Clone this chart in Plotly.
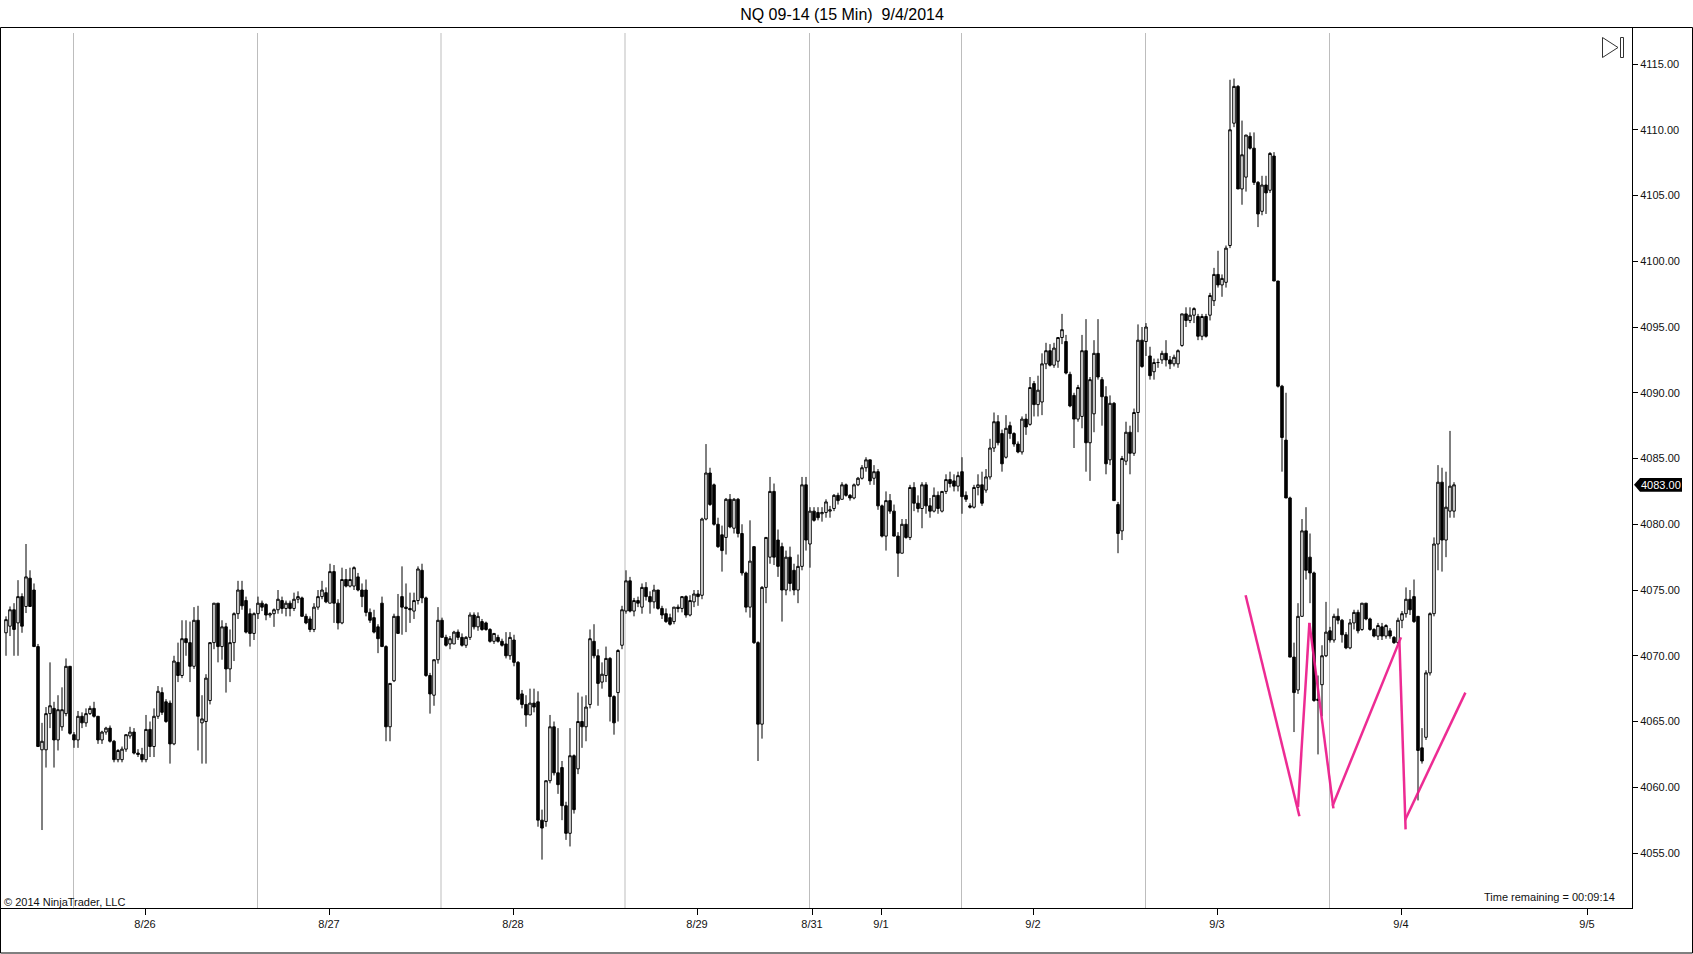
import plotly.graph_objects as go

BASE = 4000  # all the *_pts lists are points above this price

# every second 15 min bar, left to right
open_pts = [
    71.75,72.25,73.5,72.5,74.5,73.75,75.9,75,70.7,62.85,
    62.85,65.6,66,63.6,64.6,65.6,69.2,64,63.6,65.4,
    64.9,65.6,66,65.4,63.6,64.2,64.5,63.5,62.1,62.1,
    62.9,63.9,64.2,62.6,62.5,62.1,64.4,63.1,65.4,67.2,
    66.5,66.4,63.3,69.5,68.5,71.3,71,69.2,72.7,64.9,
    65,66.6,71,74,70.7,72.2,69,71,73.2,75,
    74.2,73.2,71.7,73.2,74,73.9,73.1,73.2,73.5,74.2,
    73.6,74,73.6,74.3,74.4,73,72.8,72,73.7,74.5,
    74.8,74,76.4,74,72.5,75.8,75.3,75.3,76,75,
    75,73.3,72.9,72.2,74,70.7,64.6,68.1,73,
    74.5,73.7,73.6,73.4,74.2,76.5,74.4,68.5,67,69.7,
    72.7,71.4,70.9,70.9,71.8,71.4,70.8,71.4,73.1,72.2,
    72.6,72.5,72,71.1,71.4,71.1,70.9,70,71.2,69.5,
    67.1,66.3,65.5,66.4,66.5,57.5,57.4,60.5,64.6,61.1,
    61.5,58.6,56.5,62.4,61.4,65,64.6,66.3,71.1,70,
    68,68.5,69.8,66.9,67.2,70.8,73.4,75.7,73.4,74.2,
    73.7,75.2,74.5,74.1,75,73.6,73.2,72.9,72.6,73.7,
    73.6,74.5,73.1,74.1,74.7,74.6,80.4,83.9,83,80,
    79.2,79,81.9,79.7,81.9,79.3,76.3,73.7,78.3,71,
    64.8,75.2,77.5,82.5,78.8,78.3,75,77.5,76.5,75,
    76.8,83,78.5,81,
    80.9,80.8,80.9,81,81.2,82.2,81.9,83,82.2,82,
    83,83.5,84.3,84.9,83.5,84,81.4,79.1,81.8,81,
    79.1,77.8,80,79,82.8,81.6,81.2,83,81.4,81,
    82.2,81,82.5,83.4,83.3,82.9,84,82.2,81.4,81.3,
    82.8,83,82.6,83.6,85.8,87.8,86.9,85.1,87.5,86.9,
    86.1,85.5,88,87.6,90.7,89.1,89.3,92.2,93.2,92.1,
    92.4,94.2,93.9,91.4,89.8,88,88.2,93.2,86.2,88.4,
    93,91,89.7,84.9,89.2,81.5,79.5,84.8,87,85.4,
    88.5,94,93.9,92.8,91.6,92.3,92.5,93,92.5,92.2,
    92.2,93.6,96,95.5,95.9,95.8,94.3,95.8,95.9,
    97,99,98.2,98.4,101.2,110.5,113.3,105.5,106.4,109.5,
    108.6,106,103.8,105.8,105.4,108,98.5,90.5,86.4,82,
    69.9,67.4,73,79.5,77.5,76.3,66.6,67.8,70,71.9,
    71.2,73,72.7,71.6,70.6,72.5,73.3,72,74,72.8,
    72,71.5,72.2,71.5,71.9,71.4,71,72.7,73.2,74.3,
    74.5,73,63,63.8,68.7,73.2,78.5,83.2,78.8,81,
    81,
]
high_pts = [
    73,73.75,74,75.75,74.75,78.5,76.5,75.5,70.9,64.9,
    66.1,69.5,66.5,67,67.6,69.8,69.2,64.2,65.8,65.7,
    66,66.2,66.5,65.4,64.3,64.6,64.7,63.6,62.9,63.1,
    64,64.6,64.5,62.9,63,65.5,65,66,67.7,67.6,
    66.7,66.6,70,71,72.7,72.7,72.6,73.7,73.8,67,
    68.6,71,74,74,72.7,72.5,72,73.3,75.7,75.7,
    74.5,73.6,73.3,74.5,74.2,74,73.3,73.6,75,74.5,
    74.2,74.2,74.8,74.9,74.5,73.2,73,74,75,75.7,
    75.2,77,76.9,74.3,76.7,76.6,76.7,76.8,76.3,75.5,
    75.8,73.6,73.5,72.4,74.5,70.8,67.9,73.2,74.7,
    76.8,75.5,74.8,74.8,76.8,77,74.5,68.7,69.7,73.7,
    72.9,71.6,71.5,71.9,72,71.7,71.5,73.3,73.3,73.3,
    72.8,72.6,72.1,71.7,71.6,71.3,71.8,71.8,71.6,69.6,
    67.4,67,67.5,67.5,67.3,58.3,60.5,65.5,65,64.5,
    62,58.9,64.5,62.5,67.2,66.9,67,72,72.4,70.5,
    69.5,70.7,69.9,67,70.5,73.8,76.5,76,74.4,74.5,
    75.5,75.6,74.9,75.4,75,73.8,73.6,73.2,73.7,73.9,
    74.5,74.6,74.6,75,75,80.5,86.1,84.3,83.1,80.5,
    79.9,82,82.3,82,82,80,76.4,80.3,78.3,71.1,
    75.3,79,83.6,83.1,79.6,78.6,78,78.3,77,77.7,
    83.6,83.6,81.3,81.3,
    81.3,81.3,81.9,81.4,82.3,82.4,83.2,83.1,82.3,83.1,
    83.6,84.5,85.1,84.9,84.5,84.2,81.5,82.5,82.3,81.5,
    79.4,80.4,80.4,83,83.2,82.2,83.2,83.2,82,82.8,
    82.5,82.5,83.8,84,83.8,84,85.1,82.5,81.6,83,
    83.8,84,84.2,86.5,88.5,88.3,87.2,88.3,87.8,87,
    86.3,88.2,88.4,91.2,90.9,91.3,93,93.8,93.7,93.8,
    94.2,96,94.4,91.6,90,90.6,94.4,95.6,91.2,94,
    95.6,91.2,90.5,89.8,89.3,81.7,85.2,87.8,87.5,88.8,
    95.2,95,95.3,93.5,92.6,92.6,93.2,94,92.8,92.9,
    93.3,96,96.5,96.5,96.5,96,96,96,97.6,
    99.5,100.8,99,101.2,113.8,113.9,113.4,110.7,109.6,109.8,
    109.8,106.1,106.5,106.5,108.3,108.3,96.8,90.6,90,82.1,
    71,74,80.4,81.3,79.3,76.4,68.5,70.8,74.1,72.2,
    73.2,73.6,72.8,71.8,72.8,73.5,73.5,74,74,72.9,
    72.1,72.5,72.5,72.4,72.1,71.5,72.9,73.4,75.2,75,
    75.8,73,64.5,68.9,73.3,79,84.5,84.3,84,87.1,
    83.2,
]
low_pts = [
    70,71.5,70,70,71.75,73.25,73.75,70.7,63.1,56.75,
    61.5,64.5,61.5,62.8,64.3,65.4,64,63,63,64.5,
    64.6,65.5,65.3,63.3,63.3,64,63.4,61.9,61.9,61.9,
    62.7,63.7,62.5,62.3,61.9,61.9,62.3,62.3,65.2,65.5,
    64.9,61.8,63.2,68,68.3,70,68,69,62.8,61.8,
    61.8,66.3,70.5,69.5,69.7,67.2,68,69.6,72.8,73.5,
    71.7,70.7,71.2,72.8,73.4,72.7,72.9,72.2,73.2,73.2,
    73,73,73.4,74,73,72.4,71.8,71.8,73.5,74.3,
    74,74,72.5,72,72.4,75.2,75.2,75,74.9,73.7,
    73,72.5,71.7,70.2,70.7,63.5,63.5,68,71.7,
    71.6,71.8,72.5,72.8,73.9,74,68.4,65.6,66.2,69.4,
    71.4,70.7,70.5,70.9,71.2,70.7,70.6,71.2,72,71.9,
    71.9,71.9,71,70.9,71,70.7,69.8,69.7,69.2,66.6,
    66,64.6,65.5,65.7,57,54.5,57,60.3,60.9,59.5,
    57.5,56,55.5,58,61,63,63.5,66,69.8,66.2,
    67.5,68,65,64,65,70.5,73.2,73.3,73,73.7,
    73.2,74.2,73.2,73.6,73.5,72.8,72.5,72.3,72.4,73.3,
    73.3,72.9,73,73.7,73.8,74.3,80.3,81.4,79.9,78.2,
    76.4,77.7,79.7,79.3,79,76.1,73.3,72.9,70.9,62,
    63.7,74,77,76.9,76,72.6,74.6,74.9,74.6,74,
    76.5,78,76.7,80.2,
    80.3,80.2,80.5,80.5,81,81.5,81.9,82.1,81.8,81.9,
    82.9,83.4,84,83,83,81.1,79,78,80.8,79.5,
    76,77.8,78.9,78.8,81,80.9,79.7,80.8,80.5,80.9,
    80.8,80.9,82.3,82.8,82.5,82.5,80.8,81.7,81.2,81.2,
    82.2,81.4,82.4,83.4,85.5,86,84,85,86.5,85.9,
    85.4,85.3,86.8,87.5,88.2,88.2,88.3,91.8,92,91.9,
    91.9,93.7,91.4,88.9,85.8,87.8,87.3,84,83.3,87,
    91,87.5,83.8,84.5,81.8,77.8,78.8,84.5,83.8,85.2,
    87,91.9,92.8,91,91,91.9,92.2,92,91.8,92,
    91.9,93.5,95,95.3,95.3,94,94,94.2,95.5,
    96.6,98,97.3,98,101,110.2,105.5,104.3,105.3,108.5,
    105.8,102.6,103.5,103.6,105.2,99.6,90.4,84,82,69.9,
    64.2,67.1,73,75.8,74,66.5,62.5,65.4,69.9,71,
    71,72.4,71,70.5,70.5,72,71.7,71.9,72.7,71.9,
    71.4,71.2,71.2,71.3,71.3,70.9,70.9,72.1,72.9,73.1,
    72.5,59,61.8,63.6,68.5,73,76.5,76.4,77.5,80.5,
    80.5,
]
close_pts = [
    72.75,73.5,72,74.5,72.25,76,73.75,70.7,63.1,63.5,
    65.6,66.2,63.6,65.9,65.9,69.2,64.1,63.6,65.4,64.9,
    65.6,66,65.4,63.6,64.2,64.5,63.5,62.1,62.8,62.9,
    64,64.2,62.6,62.5,62.1,64.4,63.1,65.4,67.3,65.7,
    65,63.3,69.6,68.5,71.3,71,69.2,72.7,65.4,65.2,
    68.3,71,74,70.7,72.2,69,71,73.2,75,73.8,
    71.8,71.7,73.2,74,73.7,73.1,73.2,73.5,74.3,73.6,
    74,73.6,74.3,74.5,73,72.5,72,73.7,74.5,75,
    74.1,76.4,74,72.5,75.8,75.3,75.8,76.7,75,74.5,
    73.3,72.7,71.8,71.3,70.7,64.6,67.9,73,71.7,
    73.7,73.6,73.5,74.2,76.6,74.4,68.5,67.1,69.7,72.7,
    71.4,70.8,71.3,71.8,71.4,70.8,71.4,73.1,72.2,73,
    72,72,71.1,71.7,71.1,70.8,70,71.4,69.5,66.7,
    66.3,65.5,66.4,66.1,57.5,56.9,60.5,64.6,61.1,60.2,
    58.6,56.5,62.4,58.3,65,64.6,66.1,71.3,70,67.9,
    68.6,69.8,66.9,64.9,70.4,73.5,75.7,73.4,74.2,74,
    75.2,74.5,74.1,75,73.6,73.1,72.6,72.4,73.7,73.6,
    74.5,73.1,74.2,74.7,74.5,80.4,83.9,81.5,80,78.3,
    78,81.9,79.8,81.9,79.3,76.3,73.7,77.2,71,64.8,
    75.2,79,82.5,77.5,76.8,75,77.5,75.5,75,76.8,
    83,78.8,81,80.3,
    80.5,80.9,81.7,81.1,82.2,81.8,83,82.2,82,83,
    83.5,84.3,84.9,83.3,84,81.4,79.1,81.8,81,79.1,
    77.8,80,79,82.8,81.6,81.2,83,81.4,81,82.2,
    81.2,82.5,83.4,83.1,82.9,83.7,82.1,81.9,81.3,82.8,
    83,81.6,83.6,85.8,87.8,86.2,84.6,87.3,86.9,86.1,
    85.5,88,87.4,90.4,89.1,90.2,92.2,93.2,92.1,93.4,
    94.2,94.8,91.5,89,88,90.4,93.2,86.2,91,93,
    91.2,89.7,84.6,89.2,81.8,79.3,85,87,85.4,88.5,
    94,92,95,91.3,92.3,92.3,93,92.5,92.2,92.7,
    93.2,96,95.5,95.9,96.4,94.3,95.8,94.3,97.4,
    99,98.2,98.7,101,110,113.3,105.5,108.1,109.6,108.6,
    106,103.6,105.8,105.2,108.2,98.5,90.5,86.6,82,69.9,
    67.2,73,79.5,76.5,76.3,66.6,66.7,70,71.8,71.2,
    73,72.7,71.6,70.6,72.5,73.3,71.9,74,72.8,72,
    71.5,72.3,71.5,72.3,71.5,71,72.7,73.2,74.3,73.5,
    72.6,62.8,62,68.7,73.2,78.5,83.2,78.8,81.3,82.9,
    83,
]

day_ticks = [72.5, 164.5, 256.5, 348.5, 406, 440.5, 516.5, 608.5, 700.5, 793.5]
day_labels = ['8/26', '8/27', '8/28', '8/29', '8/31', '9/1', '9/2', '9/3', '9/4', '9/5']
session_breaks = [36.75, 128.75, 220.5, 312.5, 404.75, 480.75, 572.75, 664.75]

# hand drawn pink lines, None splits them
pink_bars = [622.8, 649.7, None, 649, 654.7, None, 654.7, 666.7, None, 666.3, 700.5, None,
             699.7, 702.8, None, 702.5, 732.7]
pink_prices = [4074.6, 4057.8, None, 4058.5, 4072.5, None, 4072.5, 4058.4, None, 4058.6, 4071.4, None,
               4071.1, 4056.8, None, 4057.5, 4067.2]

last_price = 4083.00

# chart rect in page pixels
LEFT, RIGHT, TOP, BOTTOM = 1, 1632, 28, 908


def px(x):
    return (x - LEFT) / (RIGHT - LEFT)


def py(y):
    return (BOTTOM - y) / (BOTTOM - TOP)


bars = [3 + 2 * i for i in range(len(open_pts))]

fig = go.Figure()
fig.add_trace(go.Candlestick(
    x=bars,
    open=[BASE + v for v in open_pts],
    high=[BASE + v for v in high_pts],
    low=[BASE + v for v in low_pts],
    close=[BASE + v for v in close_pts],
    increasing=dict(line=dict(color='black', width=1), fillcolor='white'),
    decreasing=dict(line=dict(color='black', width=1), fillcolor='black'),
    whiskerwidth=0,
    showlegend=False,
))
fig.add_trace(go.Scatter(x=pink_bars, y=pink_prices, mode='lines', showlegend=False,
                         line=dict(color='#ec1a8a', width=2.5), opacity=0.92))

shapes = []
for b in session_breaks:
    shapes.append(dict(type='line', xref='x', yref='paper', x0=b, x1=b, y0=0, y1=py(33),
                       line=dict(color='#bdbdbd', width=1), layer='below'))
# outer window frame
shapes.append(dict(type='rect', xref='paper', yref='paper', x0=px(0.5), x1=px(1692.5),
                   y0=py(953), y1=py(27.5), line=dict(color='black', width=1)))
# jump to last bar icon
shapes.append(dict(type='path', xref='paper', yref='paper', line=dict(color='#333333', width=1),
                   path=f'M{px(1602.5)},{py(37.5)} L{px(1618)},{py(47.5)} L{px(1602.5)},{py(57.5)} Z'))
shapes.append(dict(type='rect', xref='paper', yref='paper', x0=px(1620.5), x1=px(1623.5),
                   y0=py(57.5), y1=py(37.5), line=dict(color='#333333', width=1)))
# flag for the last price
half = 6.9 / 13.15
shapes.append(dict(type='path', xref='paper', yref='y', fillcolor='black', line=dict(width=0),
                   path=f'M{px(1634)},{last_price} L{px(1640)},{last_price + half} '
                        f'L{px(1682)},{last_price + half} L{px(1682)},{last_price - half} '
                        f'L{px(1640)},{last_price - half} Z'))

small = dict(family='Liberation Sans', size=11, color='#111111')
annotations = [
    dict(xref='paper', yref='paper', x=px(2), y=py(902), xanchor='left', yanchor='middle',
         text='© 2014 NinjaTrader, LLC', showarrow=False, font=small),
    dict(xref='paper', yref='paper', x=px(1617), y=py(897), xanchor='right', yanchor='middle',
         text='Time remaining = 00:09:14', showarrow=False, font=small),
    dict(xref='paper', yref='y', x=px(1661), y=last_price, xanchor='center', yanchor='middle',
         text=f'{last_price:.2f}', showarrow=False,
         font=dict(family='Liberation Sans', size=11, color='white')),
]

fig.update_layout(
    width=1693, height=954,
    margin=dict(l=LEFT, r=1693 - RIGHT, t=TOP, b=954 - BOTTOM, autoexpand=False),
    paper_bgcolor='white', plot_bgcolor='white',
    boxgap=0.1,
    title=dict(text='NQ 09-14 (15 Min)\u00a0\u00a09/4/2014', x=842 / 1693, y=1 - 14 / 954,
               xanchor='center', yanchor='middle',
               font=dict(family='Liberation Sans', size=16, color='black')),
    xaxis=dict(range=[0.5, 816], rangeslider=dict(visible=False), tickmode='array',
               tickvals=day_ticks, ticktext=day_labels, ticks='outside', ticklen=6, tickwidth=1,
               tickcolor='black', showgrid=False, zeroline=False, showline=True,
               linecolor='black', linewidth=1, tickfont=small),
    yaxis=dict(range=[4050.82, 4117.74], side='right', tick0=4055, dtick=5, tickformat='.2f',
               ticks='outside', ticklen=5, tickwidth=1, tickcolor='black', showgrid=False,
               zeroline=False, showline=True, linecolor='black', linewidth=1, tickfont=small),
    shapes=shapes,
    annotations=annotations,
)

fig.write_html("out.html", config={'displayModeBar': False},
               post_script='document.body.style.margin="0";')
